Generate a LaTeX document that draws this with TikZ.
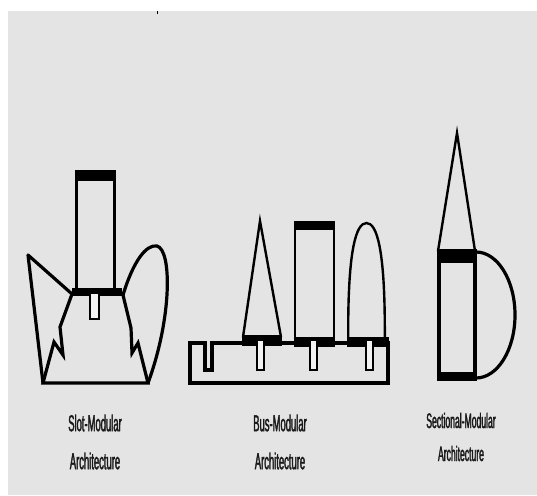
\documentclass[tikz,border=0pt]{standalone}
\usepackage{fontspec}
\newfontfamily\labfont[FakeStretch=0.41, FakeBold=1.5]{Liberation Sans}
\definecolor{bg}{HTML}{E4E4E4}
\definecolor{slotfill}{HTML}{F2F2F2}
\tikzset{
  thin/.style={line width=2.4pt, line join=miter},
  med/.style={line width=3.2pt, line join=miter},
  bar/.style={fill=black, draw=none},
  tab/.style={fill=slotfill, draw=black, line width=1.8pt},
  lab/.style={font=\labfont\fontsize{23}{38}\selectfont, align=center, text=black!90},
  labs/.style={font=\labfont\fontsize{21}{33}\selectfont, align=center, text=black!90},
}
\begin{document}
\begin{tikzpicture}[x=1pt,y=-1pt]
\useasboundingbox (0,0) rectangle (537,495);
\fill[bg] (8,11) rectangle (537,495);
\draw[line width=1pt] (157,11) -- (157,14);

% ---------- Slot-Modular ----------
% top module
\draw[thin] (76.5,175) -- (76.5,290);
\draw[thin] (114.5,175) -- (114.5,290);
\fill[bar] (75,170) rectangle (116,181);
\fill[bar] (72,288) rectangle (122,296);
\draw[tab] (90,293) rectangle (99,319);
% body
\draw[med] (72,294) -- (60,327) -- (63,355) -- (54,342) -- (43,383)
  -- (148,383) -- (138,343) -- (132,353) -- (131,328) -- (123,295);
% left flap
\draw[med, line join=round] (72,294) -- (28,255) -- (43,383);
% right flap
\draw[med] (123,295) .. controls (133,262) and (146,244) .. (157,246)
  .. controls (172,250) and (172,318) .. (148,383);
\node[lab] (slotlab) at (95,442) {Slot-Modular\\Architecture};

% ---------- Bus-Modular ----------
\draw[med] (190,343) -- (205,343) -- (205,370) -- (212,370) -- (212,343) -- (388,343)
  -- (388,383) -- (190,383) -- cycle;
% triangle module
\draw[thin] (243,337) -- (260,221) -- (281,337);
\fill[bar] (242,335) rectangle (282,346);
\draw[tab] (257,340) rectangle (264,370);
% rectangle module
\draw[thin] (295.2,225) -- (295.2,343);
\draw[thin] (333.8,225) -- (333.8,343);
\fill[bar] (294,221) rectangle (335,230);
\fill[bar] (294,337) rectangle (335,347);
\draw[tab] (310,340) rectangle (317,370);
% dome module
\draw[thin] (348.2,343) -- (348.2,330) .. controls (348.2,250) and (356,223) .. (366.5,223)
  .. controls (377,223) and (384.8,250) .. (384.8,330) -- (384.8,343);
\fill[bar] (347,337) rectangle (389,347);
\draw[tab] (366,340) rectangle (373,370);
\node[lab] (buslab) at (280,442) {Bus-Modular\\Architecture};

% ---------- Sectional-Modular ----------
\draw[thin] (438,251) -- (457,133) -- (475,251);
\draw[med] (476,252) arc[start angle=-90, end angle=90, x radius=39, y radius=63];
\draw[med] (439,250) -- (439,380);
\draw[med] (475,250) -- (475,380);
\fill[bar] (437,249) rectangle (477,263);
\fill[bar] (437,372) rectangle (477,381);
\node[labs] (seclab) at (461,437) {Sectional-Modular\\Architecture};
\end{tikzpicture}
\end{document}
